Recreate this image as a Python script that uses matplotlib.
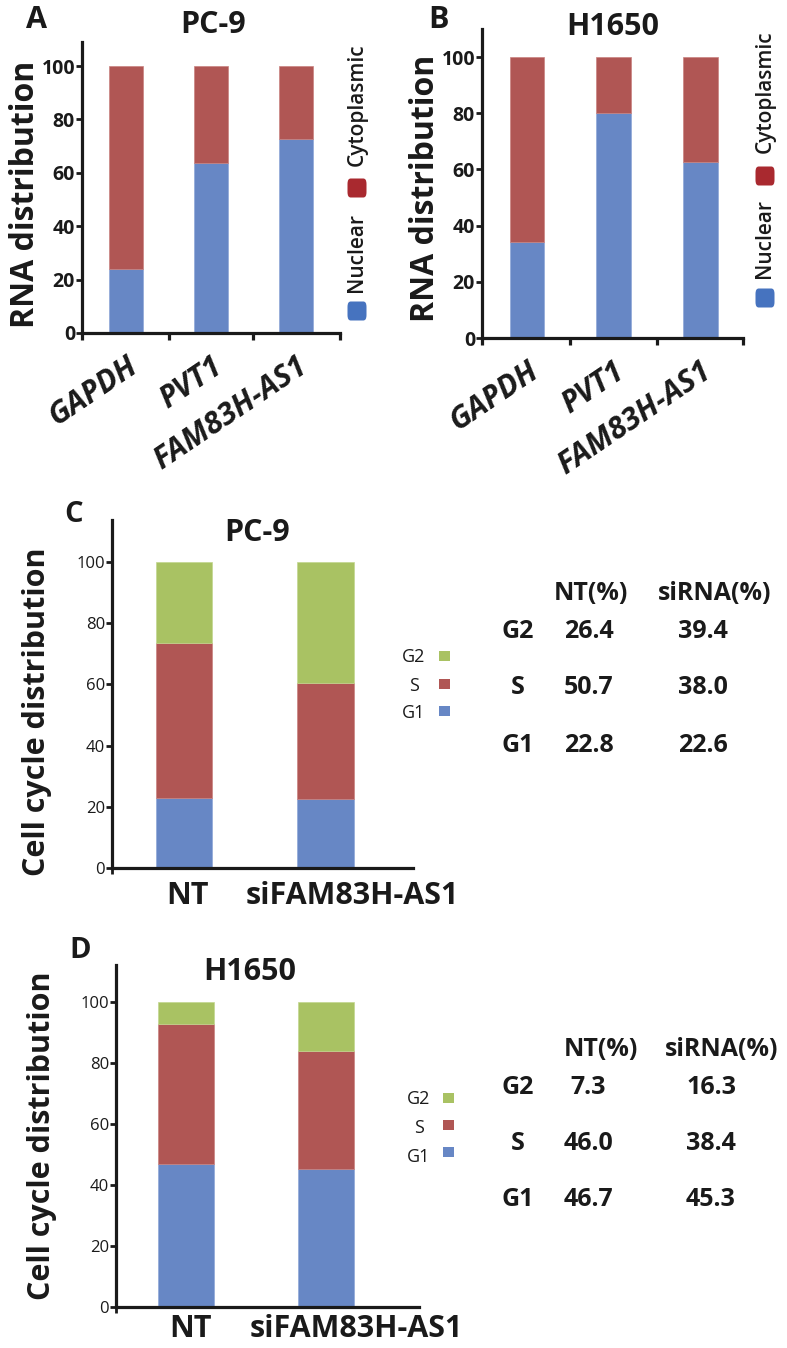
import matplotlib
matplotlib.use('Agg')
import matplotlib.pyplot as plt
from matplotlib.patches import FancyBboxPatch, Rectangle
from matplotlib.transforms import ScaledTranslation

plt.rcParams['font.family'] = ['Open Sans', 'DejaVu Sans']

# ---------------- data ----------------
rna_genes = ['GAPDH', 'PVT1', 'FAM83H-AS1']
pc9_nuclear = [24.0, 63.5, 72.5]
pc9_cyto = [76.0, 36.5, 27.5]
h1650_nuclear = [34.0, 80.0, 62.5]
h1650_cyto = [66.0, 20.0, 37.5]

cc_groups = ['NT', 'siFAM83H-AS1']
pc9_g1 = [22.8, 22.6]
pc9_s = [50.7, 38.0]
pc9_g2 = [26.4, 39.4]
h1650_g1 = [46.7, 45.3]
h1650_s = [46.0, 38.4]
h1650_g2 = [7.3, 16.3]

table_cols = ['NT(%)', 'siRNA(%)']
phase_rows = ['G2', 'S', 'G1']

# ---------------- styles ----------------
BLUE = '#6787C5'
RED = '#B05654'
GREEN = '#A9C263'
LEG_RED = '#A9292F'
LEG_BLUE = '#4673BF'
INK = '#1a1a1a'

W, H = 787, 1348
fig = plt.figure(figsize=(W / 100, H / 100), dpi=100)


def rect(l, t, r, b):
    return [l / W, 1 - b / H, (r - l) / W, (b - t) / H]


def fx(x):
    return x / W


def fy(y):
    return 1 - y / H


def style_axes(ax):
    for s in ['top', 'right']:
        ax.spines[s].set_visible(False)
    for s in ['left', 'bottom']:
        ax.spines[s].set_linewidth(2.3)
        ax.spines[s].set_color(INK)
    ax.tick_params(axis='y', length=4, width=2, color=INK, pad=1)


# ---------------- panels A / B ----------------
def rna_panel(rect_px, nuclear, cyto, ylim, xlim, title, title_xy):
    ax = fig.add_axes(rect(*rect_px))
    x = list(range(len(rna_genes)))
    ax.bar(x, nuclear, width=0.4, color=BLUE, edgecolor='#8fa8d8', linewidth=0.5)
    ax.bar(x, cyto, bottom=nuclear, width=0.4, color=RED, edgecolor='#c98280', linewidth=0.5)
    ax.set_ylim(*ylim)
    ax.set_xlim(*xlim)
    style_axes(ax)
    ax.set_yticks([0, 20, 40, 60, 80, 100])
    for lab in ax.get_yticklabels():
        lab.set_fontsize(14)
        lab.set_fontweight('bold')
        lab.set_color(INK)
    ax.set_xticks(x)
    ax.set_xticklabels(rna_genes, rotation=34, ha='right', va='top',
                       rotation_mode='anchor', fontsize=22, fontweight='bold',
                       fontstyle='italic', color=INK)
    ax.tick_params(axis='x', which='major', length=0, pad=13)
    ax.set_xticks([xlim[0], 0.5, 1.5, xlim[1]], minor=True)
    ax.tick_params(axis='x', which='minor', length=5, width=2.3, color=INK)
    fig.text(fx(title_xy[0]), fy(title_xy[1]), title, ha='center', va='center',
             fontsize=22, fontweight='bold', color=INK)
    return ax


rna_panel((82, 42, 340, 333), pc9_nuclear, pc9_cyto, (0, 109), (-0.52, 2.52),
          'PC-9', (213, 25))
rna_panel((482, 29, 743, 338), h1650_nuclear, h1650_cyto, (0, 110), (-0.52, 2.49),
          'H1650', (613, 27))

fig.text(fx(37), fy(20), 'A', ha='center', va='center', fontsize=22,
         fontweight='bold', color=INK)
fig.text(fx(438), fy(20), 'B', ha='center', va='center', fontsize=22,
         fontweight='bold', color=INK)

fig.text(fx(26), fy(194), 'RNA distribution', rotation=90, ha='center',
         va='center', fontsize=23, fontweight='bold', color=INK)
fig.text(fx(425), fy(188), 'RNA distribution', rotation=90, ha='center',
         va='center', fontsize=23, fontweight='bold', color=INK)


def rot_legend(xc, cyto_txt_c, red_c, nuc_txt_c, blue_c):
    fig.text(fx(xc), fy(cyto_txt_c), 'Cytoplasmic', rotation=90, ha='center',
             va='center', fontsize=15, fontweight='semibold', color=INK)
    fig.text(fx(xc), fy(nuc_txt_c), 'Nuclear', rotation=90, ha='center',
             va='center', fontsize=15, fontweight='semibold', color=INK)
    for yc, col in [(red_c, LEG_RED), (blue_c, LEG_BLUE)]:
        s = 19
        p = FancyBboxPatch((fx(xc - s / 2), fy(yc + s / 2)), s / W, s / H,
                           boxstyle='round,pad=0,rounding_size=0.004',
                           transform=fig.transFigure, facecolor=col,
                           edgecolor='none')
        fig.add_artist(p)


rot_legend(357, 105, 188, 253, 311)
rot_legend(765, 92, 176, 239, 298)


# ---------------- panels C / D ----------------
def cc_panel(rect_px, g1, s, g2, ylim, xlim, title, title_xy, label_shift, pad):
    ax = fig.add_axes(rect(*rect_px))
    x = list(range(len(cc_groups)))
    b1 = g1
    b2 = [a + b for a, b in zip(g1, s)]
    ax.bar(x, g1, width=0.4, color=BLUE, edgecolor='#8fa8d8', linewidth=0.5)
    ax.bar(x, s, bottom=b1, width=0.4, color=RED, edgecolor='#c98280', linewidth=0.5)
    ax.bar(x, g2, bottom=b2, width=0.4, color=GREEN, edgecolor='#c3d68f', linewidth=0.5)
    ax.set_ylim(*ylim)
    ax.set_xlim(*xlim)
    style_axes(ax)
    ax.set_yticks([0, 20, 40, 60, 80, 100])
    for lab in ax.get_yticklabels():
        lab.set_fontsize(12)
        lab.set_color(INK)
    ax.set_xticks(x)
    ax.set_xticklabels(cc_groups, fontsize=22, fontweight='bold', color=INK)
    ax.tick_params(axis='x', which='major', length=0, pad=pad)
    ax.set_xticks([xlim[0]], minor=True)
    ax.tick_params(axis='x', which='minor', length=4, width=2, color=INK)
    labs = ax.get_xticklabels()
    for lab, dx in zip(labs, label_shift):
        lab.set_transform(lab.get_transform() +
                          ScaledTranslation(dx / 100, 0, fig.dpi_scale_trans))
    fig.text(fx(title_xy[0]), fy(title_xy[1]), title, ha='center', va='center',
             fontsize=22, fontweight='bold', color=INK)
    return ax


cc_panel((112, 520, 413, 868), pc9_g1, pc9_s, pc9_g2, (0, 113.7), (-0.51, 1.62),
         'PC-9', (257, 533), [3, 27], 9)
cc_panel((116, 965, 419, 1307), h1650_g1, h1650_s, h1650_g2, (0, 112), (-0.5, 1.66),
         'H1650', (250, 972), [4, 30], 5)

fig.text(fx(74), fy(515), 'C', ha='center', va='center', fontsize=21,
         fontweight='bold', color=INK)
fig.text(fx(80), fy(950), 'D', ha='center', va='center', fontsize=21,
         fontweight='bold', color=INK)

fig.text(fx(37), fy(712), 'Cell cycle distribution', rotation=90, ha='center',
         va='center', fontsize=22, fontweight='bold', color=INK)
fig.text(fx(42), fy(1136), 'Cell cycle distribution', rotation=90, ha='center',
         va='center', fontsize=22, fontweight='bold', color=INK)


def cc_legend(txt_x, sq_x, ys, sq_ys):
    cols = [GREEN, RED, BLUE]
    for name, y, sy, col in zip(phase_rows, ys, sq_ys, cols):
        fig.text(fx(txt_x), fy(y), name, ha='center', va='center', fontsize=13,
                 color=INK)
        r = Rectangle((fx(sq_x), fy(sy + 5)), 11 / W, 10 / H,
                      transform=fig.transFigure, facecolor=col, edgecolor='none')
        fig.add_artist(r)


cc_legend(414, 439, [657, 686, 713], [656, 684, 711])
cc_legend(419, 443, [1099, 1128, 1157], [1098, 1125, 1152])


def cc_table(head_y, head_xs, row_ys, row_x, nt_x, si_x, nt_vals, si_vals):
    for name, hx in zip(table_cols, head_xs):
        fig.text(fx(hx), fy(head_y), name, ha='center', va='center',
                 fontsize=18, fontweight='bold', color=INK)
    for name, ry, a, b in zip(phase_rows, row_ys, nt_vals, si_vals):
        fig.text(fx(row_x), fy(ry), name, ha='center', va='center',
                 fontsize=18, fontweight='bold', color=INK)
        fig.text(fx(nt_x), fy(ry), f'{a:.1f}', ha='center', va='center',
                 fontsize=18, fontweight='bold', color=INK)
        fig.text(fx(si_x), fy(ry), f'{b:.1f}', ha='center', va='center',
                 fontsize=18, fontweight='bold', color=INK)


cc_table(593, [591, 715], [632, 688, 745], 518, 589, 703,
         [pc9_g2[0], pc9_s[0], pc9_g1[0]], [pc9_g2[1], pc9_s[1], pc9_g1[1]])
cc_table(1050, [601, 722], [1087, 1143, 1200], 518, 588, 711,
         [h1650_g2[0], h1650_s[0], h1650_g1[0]], [h1650_g2[1], h1650_s[1], h1650_g1[1]])

fig.savefig('out.png', dpi=100)
